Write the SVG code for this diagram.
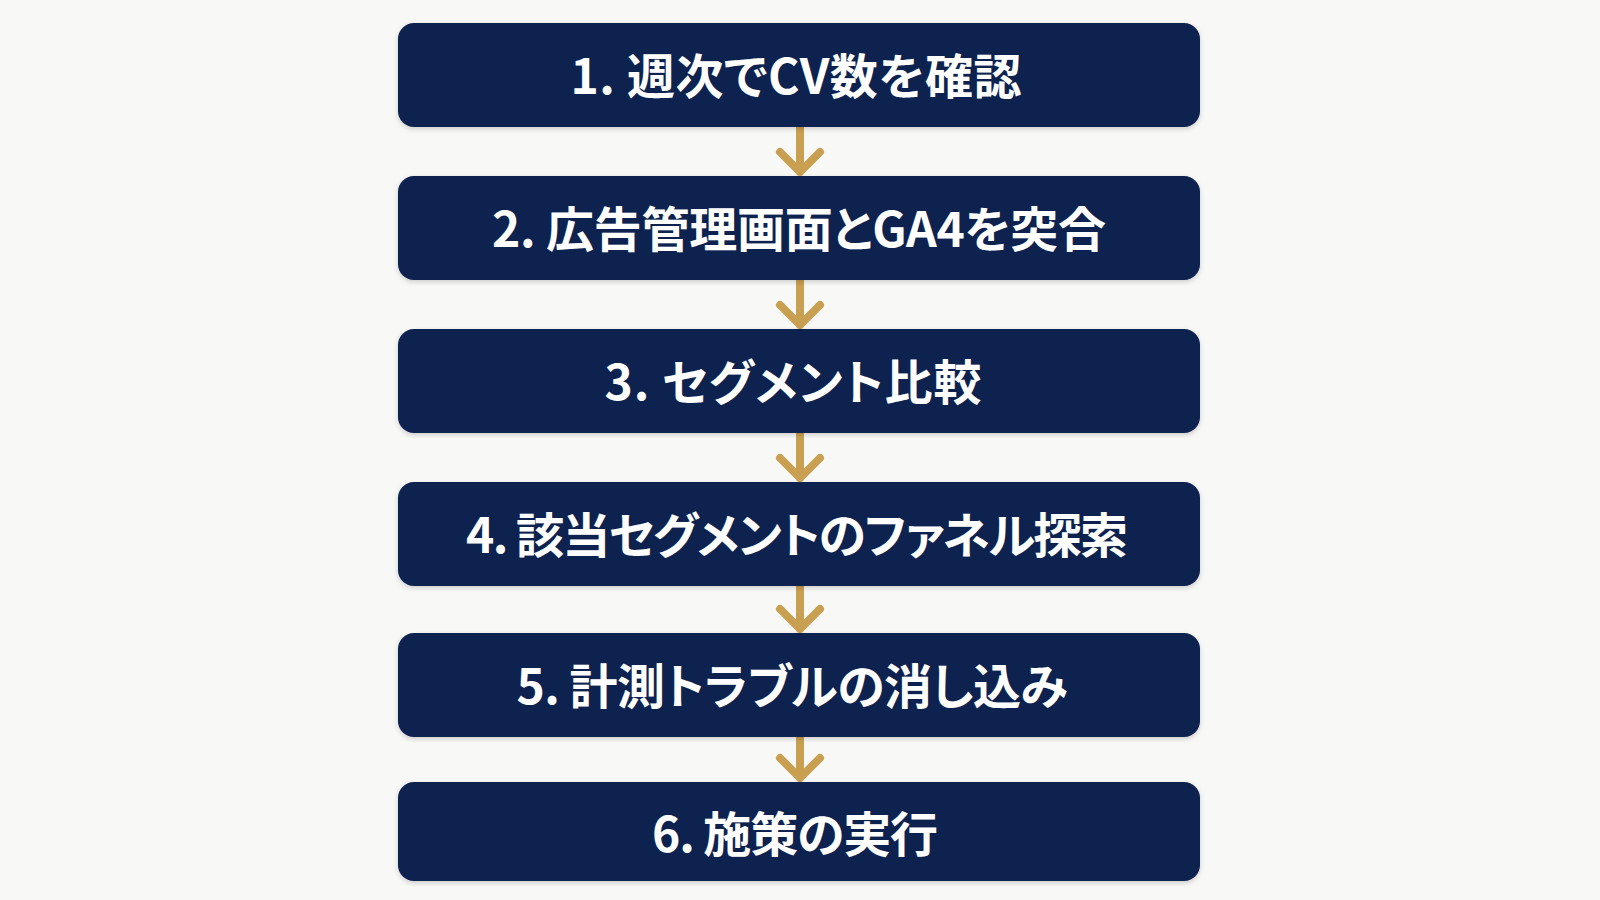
<svg xmlns="http://www.w3.org/2000/svg" width="1600" height="900" viewBox="0 0 1600 900">
  <defs>
    <filter id="sh" x="-5%" y="-20%" width="110%" height="150%">
      <feDropShadow dx="0" dy="2" stdDeviation="2.5" flood-color="#000000" flood-opacity="0.18"/>
    </filter>
    <style>
      .box { fill: #0A2050; filter: url(#sh); }
      .lbl { fill: #FFFFFF; font-family: "Noto Sans CJK JP", "Noto Sans", sans-serif; font-weight: 700; font-size: 48px; text-anchor: middle; font-feature-settings: "palt"; }
      .arr { fill: none; stroke: #C9A052; stroke-width: 8; stroke-linecap: round; stroke-linejoin: round; }
    </style>
  </defs>
  <rect x="0" y="0" width="1600" height="900" fill="#F8F8F7"/>

  <g id="connectors">
    <path class="arr" d="M800 127 V172 M780 152 L800 172 L820 152"/>
    <path class="arr" d="M800 280 V325 M780 305 L800 325 L820 305"/>
    <path class="arr" d="M800 433 V478 M780 458 L800 478 L820 458"/>
    <path class="arr" d="M800 586 V629 M780 609 L800 629 L820 609"/>
    <path class="arr" d="M800 737 V778 M780 758 L800 778 L820 758"/>
  </g>

  <g id="step1">
    <rect class="box" x="398" y="23" width="802" height="104" rx="16"/>
    <text class="lbl" x="796" y="94" textLength="451" lengthAdjust="spacing">1. 週次でCV数を確認</text>
  </g>
  <g id="step2">
    <rect class="box" x="398" y="176" width="802" height="104" rx="16"/>
    <text class="lbl" x="799" y="247" textLength="614" lengthAdjust="spacing">2. 広告管理画面とGA4を突合</text>
  </g>
  <g id="step3">
    <rect class="box" x="398" y="329" width="802" height="104" rx="16"/>
    <text class="lbl" x="793" y="400" textLength="377" lengthAdjust="spacing">3. セグメント比較</text>
  </g>
  <g id="step4">
    <rect class="box" x="398" y="482" width="802" height="104" rx="16"/>
    <text class="lbl" x="797" y="553" textLength="662" lengthAdjust="spacing">4. 該当セグメントのファネル探索</text>
  </g>
  <g id="step5">
    <rect class="box" x="398" y="633" width="802" height="104" rx="16"/>
    <text class="lbl" x="792" y="704" textLength="551" lengthAdjust="spacing">5. 計測トラブルの消し込み</text>
  </g>
  <g id="step6">
    <rect class="box" x="398" y="782" width="802" height="99" rx="16"/>
    <text class="lbl" x="795" y="852" textLength="286" lengthAdjust="spacing">6. 施策の実行</text>
  </g>
</svg>
